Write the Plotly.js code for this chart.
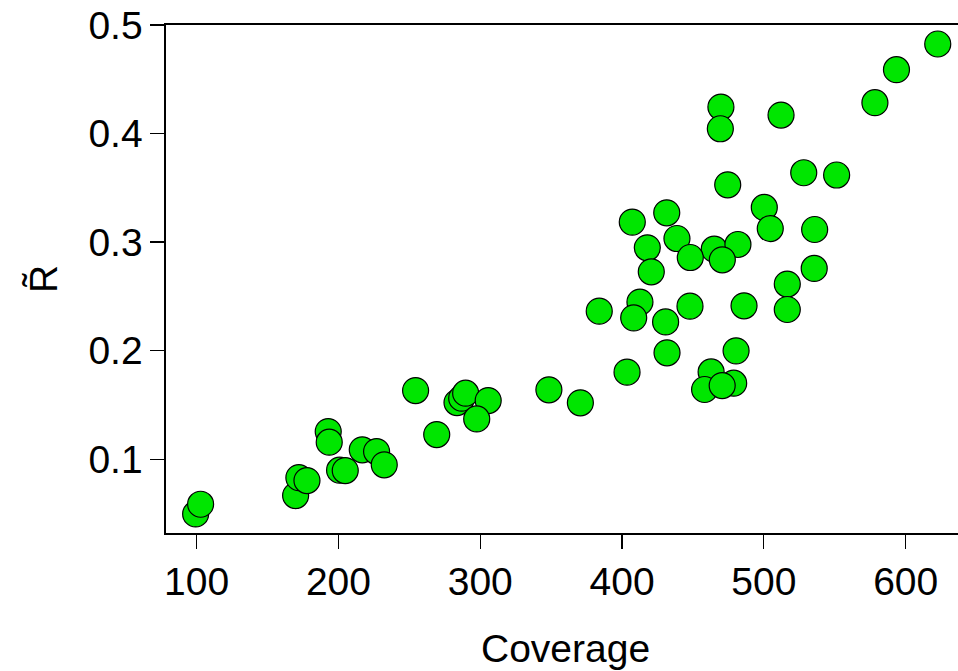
<!DOCTYPE html>
<html>
<head>
<meta charset="utf-8">
<script src="https://cdn.plot.ly/plotly-3.0.1.min.js"></script>
<style>
html,body{margin:0;padding:0;background:#fff;overflow:hidden;}
#wrap{width:958px;height:671px;overflow:hidden;position:relative;}
#chart{width:980px;height:671px;}
</style>
</head>
<body>
<div id="wrap"><div id="chart"></div></div>
<script>
// Coverage (x) and R-tilde (y) values
const coverage = [
  99.3, 102.8, 169.8, 172.1, 177.8, 192.8, 193.5, 200.8, 204.8, 216.8,
  226.9, 232.3, 254.4, 269.3, 283.6, 286.9, 289.7, 305.6, 297.5, 348.4,
  370.6,
  469.7, 469.3, 512.1, 528.1, 551.3, 474.5, 500.3, 504.5, 535.8, 431.5,
  407.2, 438.7, 417.8, 465.0, 481.7, 448.1, 470.7, 420.6, 535.5, 516.5,
  516.5, 412.6, 408.2, 383.9, 430.7, 447.9, 486.0, 431.7, 480.4, 403.5,
  462.8, 478.7, 458.2, 470.6,
  593.5, 622.6, 578.3
];
const rTilde = [
  0.0496, 0.0585, 0.0665, 0.0830, 0.0803, 0.1254, 0.1157, 0.0899, 0.0895, 0.1086,
  0.1070, 0.0948, 0.1632, 0.1227, 0.1522, 0.1562, 0.1608, 0.1540, 0.1371, 0.1639,
  0.1519,
  0.4244, 0.4044, 0.4170, 0.3639, 0.3618, 0.3528, 0.3319, 0.3125, 0.3116, 0.3270,
  0.3184, 0.3033, 0.2947, 0.2935, 0.2978, 0.2858, 0.2837, 0.2726, 0.2757, 0.2613,
  0.2379, 0.2447, 0.2302, 0.2364, 0.2265, 0.2410, 0.2413, 0.1980, 0.1998, 0.1802,
  0.1804, 0.1700, 0.1642, 0.1678,
  0.4588, 0.4825, 0.4284
];
const xTicks = [100, 200, 300, 400, 500, 600];
const xTickLabels = ["100", "200", "300", "400", "500", "600"];
const yTicks = [0.1, 0.2, 0.3, 0.4, 0.5];
const yTickLabels = ["0.1", "0.2", "0.3", "0.4", "0.5"];
const xTitle = "Coverage";
const yTitle = "R\u0303";

const font = "Liberation Sans, Arial, sans-serif";

const trace = {
  type: "scatter",
  mode: "markers",
  x: coverage,
  y: rTilde,
  marker: {
    size: 26,
    color: "#00e600",
    line: {color: "#000000", width: 1.2}
  },
  cliponaxis: false,
  hoverinfo: "x+y"
};

const layout = {
  width: 980,
  height: 671,
  margin: {l: 166, r: 0, t: 25, b: 138},
  paper_bgcolor: "#ffffff",
  plot_bgcolor: "#ffffff",
  showlegend: false,
  font: {family: font, color: "#000000", size: 39},
  xaxis: {
    range: [78.4, 652.4],
    tickvals: xTicks,
    ticktext: xTickLabels,
    ticks: "outside",
    ticklen: 14,
    tickwidth: 1.2,
    tickcolor: "#000",
    showline: true,
    linecolor: "#000",
    linewidth: 1.6,
    mirror: true,
    showgrid: false,
    zeroline: false,
    tickfont: {family: font, size: 39, color: "#000"},
    automargin: false
  },
  yaxis: {
    range: [0.032, 0.5],
    tickvals: yTicks,
    ticktext: yTickLabels,
    ticks: "outside",
    ticklen: 14,
    tickwidth: 1.2,
    tickcolor: "#000",
    showline: true,
    linecolor: "#000",
    linewidth: 1.6,
    mirror: false,
    showgrid: false,
    zeroline: false,
    tickfont: {family: font, size: 39, color: "#000"},
    title: {text: yTitle, font: {family: font, size: 39, color: "#000"}, standoff: 19},
    automargin: false
  },
  annotations: [{
    text: xTitle,
    xref: "paper", yref: "paper",
    x: (565 - 166) / (980 - 166),
    y: (533 - 648) / 508,
    xanchor: "center", yanchor: "middle",
    showarrow: false,
    font: {family: font, size: 39, color: "#000"}
  }]
};

Plotly.newPlot("chart", [trace], layout, {displayModeBar: false, staticPlot: true});
</script>
</body>
</html>
